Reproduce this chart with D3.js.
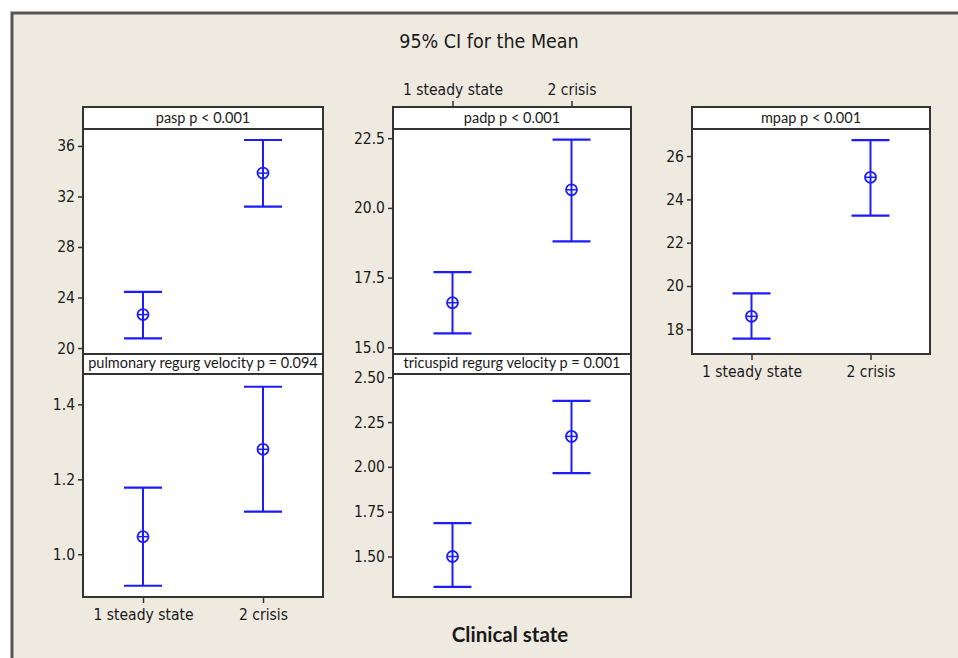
<!DOCTYPE html>
<html>
<head>
<meta charset="utf-8">
<script src="https://cdn.jsdelivr.net/npm/d3@7"></script>
<style>
  body { margin: 0; background: #fff; }
  svg text { font-family: "DejaVu Sans Condensed", "DejaVu Sans", sans-serif; fill: #1a1a1a; }
</style>
</head>
<body>
<div id="chart"></div>
<script>
// groups on the x axis
const categories = ["1 steady state", "2 crisis"];

// 95% CI: mean, lower, upper per group
const paspMean = [22.65, 33.85], paspLow = [20.76, 31.2], paspHigh = [24.45, 36.47];
const padpMean = [16.6, 20.65], padpLow = [15.5, 18.8], padpHigh = [17.7, 22.45];
const mpapMean = [18.6, 25.02], mpapLow = [17.57, 23.25], mpapHigh = [19.66, 26.74];
const pulmMean = [1.047, 1.28], pulmLow = [0.916, 1.114], pulmHigh = [1.178, 1.447];
const tricMean = [1.5, 2.17], tricLow = [1.33, 1.965], tricHigh = [1.686, 2.368];

// tick values
const paspTicks = [20, 24, 28, 32, 36];
const padpTicks = [15, 17.5, 20, 22.5];
const mpapTicks = [18, 20, 22, 24, 26];
const pulmTicks = [1.0, 1.2, 1.4];
const tricTicks = [1.5, 1.75, 2.0, 2.25, 2.5];

const W = 958, H = 658;
const blue = "#1c1cff";

var svg = d3.select("#chart").append("svg")
    .attr("width", W)
    .attr("height", H);

// beige frame
svg.append("rect")
    .attr("x", 12).attr("y", 13)
    .attr("width", W + 20).attr("height", H + 20)
    .attr("fill", "#eeeae0")
    .attr("stroke", "#555")
    .attr("stroke-width", 3);

svg.append("text")
    .attr("x", 489).attr("y", 48)
    .attr("text-anchor", "middle")
    .style("font-size", "19.5px")
    .text("95% CI for the Mean");

svg.append("text")
    .attr("x", 510).attr("y", 642)
    .attr("text-anchor", "middle")
    .style("font-family", "Lato, sans-serif")
    .style("font-weight", "bold")
    .style("font-size", "20.5px")
    .text("Clinical state");

// panel layout: x0, x1, strip top, plot top, plot bottom
var panels = [
    { label: "pasp p < 0.001", x0: 83, x1: 323, s0: 107, p0: 129, p1: 354,
      dom: [19.53, 37.34], ticks: paspTicks, fmt: "d",
      mean: paspMean, lo: paspLow, hi: paspHigh },
    { label: "padp p < 0.001", x0: 393, x1: 631, s0: 107, p0: 129, p1: 354,
      dom: [14.76, 22.83], ticks: padpTicks, fmt: ".1f", topAxis: true,
      mean: padpMean, lo: padpLow, hi: padpHigh },
    { label: "mpap p < 0.001", x0: 692, x1: 930, s0: 107, p0: 129, p1: 354,
      dom: [16.86, 27.25], ticks: mpapTicks, fmt: "d", bottomAxis: true,
      mean: mpapMean, lo: mpapLow, hi: mpapHigh },
    { label: "pulmonary regurg velocity p = 0.094", x0: 83, x1: 323, s0: 354, p0: 374, p1: 597,
      dom: [0.886, 1.481], ticks: pulmTicks, fmt: ".1f", bottomAxis: true,
      mean: pulmMean, lo: pulmLow, hi: pulmHigh },
    { label: "tricuspid regurg velocity p = 0.001", x0: 393, x1: 631, s0: 354, p0: 374, p1: 597,
      dom: [1.274, 2.518], ticks: tricTicks, fmt: ".2f",
      mean: tricMean, lo: tricLow, hi: tricHigh }
];

panels.forEach(function (p) {
    var g = svg.append("g");
    var x = d3.scalePoint().domain(categories).range([p.x0, p.x1]).padding(0.5);
    var y = d3.scaleLinear().domain(p.dom).range([p.p1, p.p0]);

    g.append("rect")
        .attr("x", p.x0).attr("y", p.p0)
        .attr("width", p.x1 - p.x0).attr("height", p.p1 - p.p0)
        .attr("fill", "#fff");
    g.append("rect")
        .attr("x", p.x0).attr("y", p.s0)
        .attr("width", p.x1 - p.x0).attr("height", p.p0 - p.s0)
        .attr("fill", "#fff")
        .attr("stroke", "#333").attr("stroke-width", 2);

    g.append("text")
        .attr("x", (p.x0 + p.x1) / 2)
        .attr("y", p.p0 - 6)
        .attr("text-anchor", "middle")
        .style("font-family", "Lato, sans-serif")
        .style("font-size", "14.5px")
        .text(p.label);

    var ya = g.append("g")
        .attr("transform", "translate(" + p.x0 + ",0)")
        .call(d3.axisLeft(y).tickValues(p.ticks).tickFormat(d3.format(p.fmt)).tickSize(5).tickPadding(3));
    ya.select(".domain").remove();
    ya.selectAll(".tick line").attr("stroke", "#333").attr("stroke-width", 1.5);
    ya.selectAll(".tick text").style("font-size", "15.5px").style("font-family", null).attr("fill", "#1a1a1a");

    if (p.bottomAxis) {
        var xa = g.append("g")
            .attr("transform", "translate(0," + p.p1 + ")")
            .call(d3.axisBottom(x).tickSize(6).tickPadding(6));
        xa.select(".domain").remove();
        xa.selectAll(".tick line").attr("stroke", "#333").attr("stroke-width", 1.5);
        xa.selectAll(".tick text").style("font-size", "15.5px").style("font-family", null).attr("fill", "#1a1a1a");
    }
    if (p.topAxis) {
        var ta = g.append("g")
            .attr("transform", "translate(0," + p.s0 + ")")
            .call(d3.axisTop(x).tickSize(6).tickPadding(6));
        ta.select(".domain").remove();
        ta.selectAll(".tick line").attr("stroke", "#333").attr("stroke-width", 1.5);
        ta.selectAll(".tick text").style("font-size", "15.5px").style("font-family", null).attr("fill", "#1a1a1a");
    }

    // error bars
    categories.forEach(function (c, i) {
        var cx = x(c);
        g.append("line")
            .attr("x1", cx).attr("x2", cx)
            .attr("y1", y(p.lo[i])).attr("y2", y(p.hi[i]))
            .attr("stroke", blue).attr("stroke-width", 2);
        [p.lo[i], p.hi[i]].forEach(function (v) {
            g.append("line")
                .attr("x1", cx - 19).attr("x2", cx + 19)
                .attr("y1", y(v)).attr("y2", y(v))
                .attr("stroke", blue).attr("stroke-width", 2.2);
        });
        var cy = y(p.mean[i]);
        g.append("circle")
            .attr("cx", cx).attr("cy", cy).attr("r", 5.5)
            .attr("fill", "none").attr("stroke", blue).attr("stroke-width", 1.8);
        g.append("line")
            .attr("x1", cx - 5.5).attr("x2", cx + 5.5)
            .attr("y1", cy).attr("y2", cy)
            .attr("stroke", blue).attr("stroke-width", 1.5);
    });

    g.append("rect")
        .attr("x", p.x0).attr("y", p.s0)
        .attr("width", p.x1 - p.x0).attr("height", p.p1 - p.s0)
        .attr("fill", "none")
        .attr("stroke", "#333").attr("stroke-width", 2);
});
</script>
</body>
</html>
